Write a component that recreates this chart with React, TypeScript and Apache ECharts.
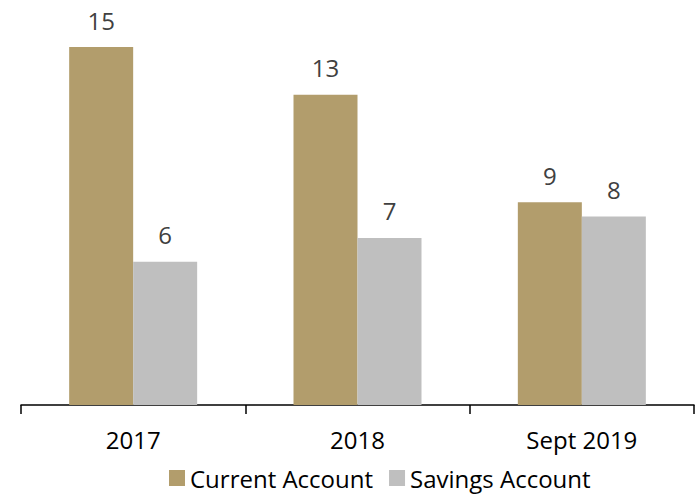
import React, { useEffect, useRef } from "react";
import * as echarts from "echarts";

const categories = ["2017", "2018", "Sept 2019"];
const currentAccount = [15, 13, 8.5];
const savingsAccount = [6, 7, 7.9];
const currentLabels = ["15", "13", "9"];
const savingsLabels = ["6", "7", "8"];

const FONT = "'Open Sans', 'Noto Sans', sans-serif";

export default function App() {
  const ref = useRef<HTMLDivElement>(null);
  useEffect(() => {
    if (!ref.current) return;
    const chart = echarts.init(ref.current, undefined, { renderer: "svg" });
    chart.setOption({
      animation: false,
      backgroundColor: "#ffffff",
      textStyle: { fontFamily: FONT },
      grid: { left: 21, right: 2, top: 47, bottom: 90, containLabel: false },
      legend: {
        left: 169,
        top: 466,
        padding: 0,
        itemWidth: 16,
        itemHeight: 16,
        itemGap: 16,
        icon: "rect",
        textStyle: {
          fontFamily: FONT,
          fontSize: 24,
          color: "#000000",
          padding: [0, 0, 8, 0],
        },
        data: ["Current Account", "Savings Account"],
      },
      xAxis: {
        type: "category",
        data: categories,
        axisLine: { lineStyle: { color: "#000000", width: 1.5 } },
        axisTick: { show: true, length: 9, lineStyle: { color: "#000000", width: 1.5 } },
        axisLabel: { fontFamily: FONT, fontSize: 24, color: "#000000", margin: 22 },
      },
      yAxis: {
        type: "value",
        min: 0,
        max: 15,
        show: false,
        splitLine: { show: false },
      },
      series: [
        {
          name: "Current Account",
          type: "bar",
          data: currentAccount,
          barWidth: 64,
          barGap: "0%",
          itemStyle: { color: "#B29D6C" },
          label: {
            show: true,
            position: "top",
            distance: 15,
            fontFamily: FONT,
            fontSize: 24,
            color: "#404040",
            formatter: (p: any) => currentLabels[p.dataIndex],
          },
        },
        {
          name: "Savings Account",
          type: "bar",
          data: savingsAccount,
          barWidth: 64,
          barGap: "0%",
          itemStyle: { color: "#BFBFBF" },
          label: {
            show: true,
            position: "top",
            distance: 15,
            fontFamily: FONT,
            fontSize: 24,
            color: "#404040",
            formatter: (p: any) => savingsLabels[p.dataIndex],
          },
        },
      ],
    });
    return () => chart.dispose();
  }, []);
  return (
    <div
      ref={ref}
      style={{ position: "fixed", left: 0, top: 0, width: 696, height: 495 }}
    />
  );
}
